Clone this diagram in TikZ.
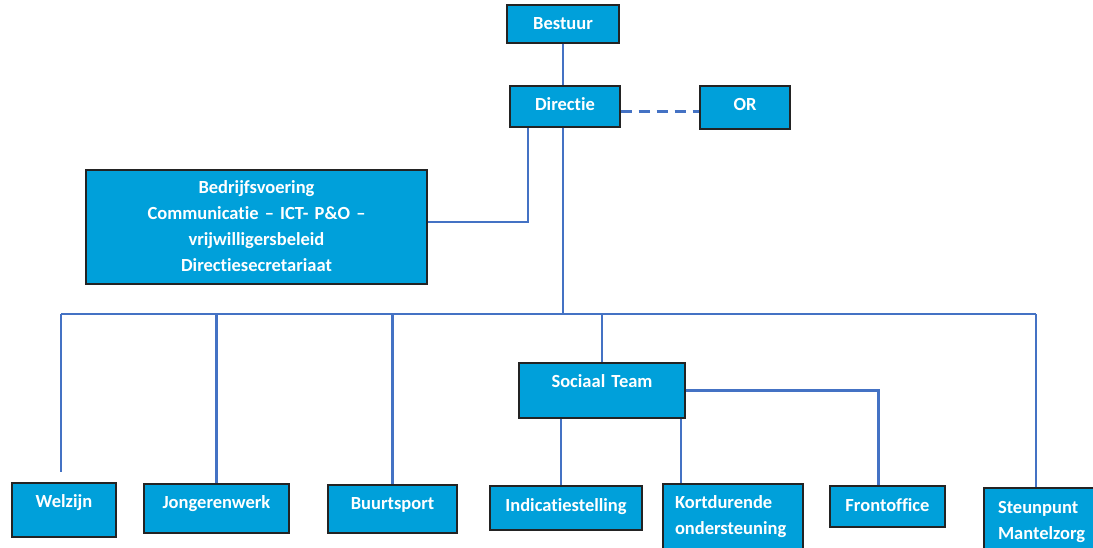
\documentclass[tikz,border=0pt]{standalone}
\usepackage{fontspec}
\setmainfont{Carlito}[Ligatures=NoCommon]
\usetikzlibrary{positioning}
\usetikzlibrary{calc}
\definecolor{boxblue}{RGB}{0,160,218}
\definecolor{linkblue}{RGB}{68,114,196}
\definecolor{rimgray}{RGB}{35,35,35}

\begin{document}
\begin{tikzpicture}[x=1pt, y=-1pt,
  orgbox/.style={draw=rimgray, line width=1.4pt, fill=boxblue, text=white, font=\fontsize{18.5}{26}\selectfont\bfseries, inner sep=0pt, anchor=base, align=center},
  link/.style={draw=linkblue, line width=2.4pt}]

  \useasboundingbox (0,0) rectangle (1093,548);

  % Top
  \node[orgbox, text width=112pt, text height=25pt, text depth=13pt] (bestuur) at (563,30) {Bestuur};
  \node[orgbox, text width=110pt, text height=25pt, text depth=16pt] (directie) at (565,111) {Directie};
  \node[orgbox, text width=90pt, text height=25pt, text depth=18pt] (or) at (745,111) {OR};

  % Staff
  \node[orgbox, text width=341pt, text height=24pt, text depth=90pt] (bedrijf) at (256.5,194) {Bedrijfsvoering\\Communicatie – ICT- P\&O –\\vrijwilligersbeleid\\Directiesecretariaat};

  % Sociaal Team
  \node[orgbox, text width=166pt, text height=24pt, text depth=31pt] (sociaal) at (602,387) {Sociaal Team};

  % Bottom row
  \node[orgbox, text width=104pt, text height=24pt, text depth=30pt] (welzijn) at (64,507) {Welzijn};
  \node[orgbox, text width=145pt, text height=24pt, text depth=25pt] (jongeren) at (216.5,508) {Jongerenwerk};
  \node[orgbox, text width=129pt, text height=24pt, text depth=24pt] (buurt) at (392.5,509) {Buurtsport};
  \node[orgbox, text width=152pt, text height=25pt, text depth=19pt] (indic) at (566,511) {Indicatiestelling};
  \node[orgbox, align=left, inner xsep=12pt, text width=116pt, text height=24pt, text depth=52pt] (kort) at (733,508) {Kortdurende\\ondersteuning};
  \node[orgbox, text width=115pt, text height=25pt, text depth=16pt] (front) at (887.5,511) {Frontoffice};
  \node[orgbox, align=left, inner xsep=14pt, text width=98pt, text height=25pt, text depth=47pt] (steun) at (1047,513) {Steunpunt\\Mantelzorg};

  % Lines
  \coordinate (busL) at (61,314);
  \coordinate (busR) at (1036,314);
  \coordinate (welzijntop) at ([yshift=10pt]welzijn.north);

  \draw[link] (bestuur.south) -- (bestuur.south |- directie.north);
  \draw[link, dash pattern=on 11pt off 7pt] ([yshift=-5pt]directie.east) -- ([yshift=-5pt]directie.east -| or.west);
  \draw[link] ([yshift=5pt]bedrijf.east) -| ([xshift=-37pt]directie.south);
  \draw[link] (bestuur.south |- directie.south) -- (bestuur.south |- busL);
  \draw[link] (busL) -- (busR);

  \draw[link] (busL) -- (busL |- welzijntop);
  \draw[link] (jongeren.north |- busL) -- (jongeren.north);
  \draw[link] (buurt.north |- busL) -- (buurt.north);
  \draw[link] (sociaal.north |- busL) -- (sociaal.north);
  \draw[link] (busR) -- (busR |- steun.north);

  \draw[link] ([xshift=-5pt]indic.north) -- ([xshift=-5pt]indic.north |- sociaal.south);
  \draw[link] ([xshift=-5pt]sociaal.south east) -- ([xshift=-5pt]sociaal.south east |- kort.north);
  \draw[link] (sociaal.east) -| ([xshift=-9pt]front.north);

\end{tikzpicture}
\end{document}
